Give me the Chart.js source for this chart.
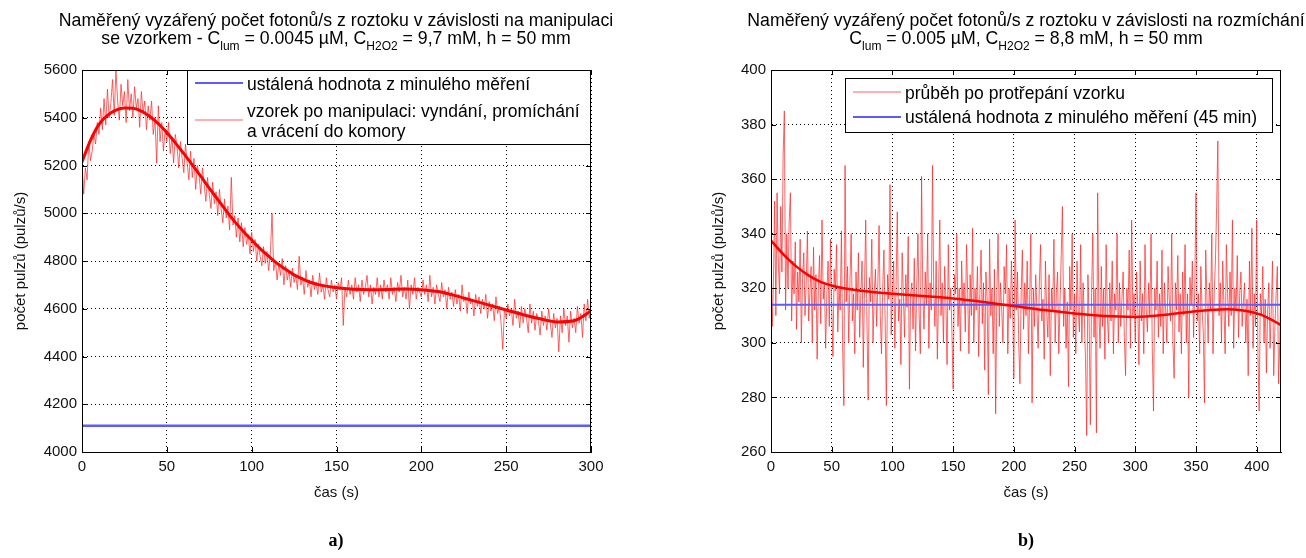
<!DOCTYPE html>
<html><head><meta charset="utf-8">
<script src="https://cdn.jsdelivr.net/npm/chart.js@4.4.0/dist/chart.umd.min.js"></script>
<style>
body{margin:0;background:#fff;width:1306px;height:558px;overflow:hidden;position:relative;font-family:"Liberation Sans",Arial,sans-serif;}
canvas{position:absolute;top:0}
#c1{left:0}
#c2{left:653px}
.title{position:absolute;top:11px;width:680px;text-align:center;font-size:17.7px;line-height:18px;color:#000;white-space:nowrap}
.title sub{font-size:12px;vertical-align:-6px;line-height:0}
.lab{position:absolute;top:530px;width:60px;text-align:center;font-family:"Liberation Serif","Times New Roman",serif;font-weight:bold;font-size:18px;color:#000}
</style></head>
<body>
<canvas id="c1" width="653" height="558"></canvas>
<canvas id="c2" width="653" height="558"></canvas>
<div class="title" style="left:-4px">Naměřený vyzářený počet fotonů/s z roztoku v závislosti na manipulaci<br>se vzorkem - C<sub>lum</sub> = 0.0045 µM, C<sub>H2O2</sub> = 9,7 mM, h = 50 mm</div>
<div class="title" style="left:686px">Naměřený vyzářený počet fotonů/s z roztoku v závislosti na rozmíchání<br>C<sub>lum</sub> = 0.005 µM, C<sub>H2O2</sub> = 8,8 mM, h = 50 mm</div>
<div class="lab" style="left:306px">a)</div>
<div class="lab" style="left:996px">b)</div>
<script>
// ---------- Chart a) ----------
const xTicksA = [0, 50, 100, 150, 200, 250, 300];
const yTicksA = [4000, 4200, 4400, 4600, 4800, 5000, 5200, 5400, 5600];
const stepA = 1; // sampling step of noisy series (s), starts at 0
const noisyA = [
  5215,5080,5190,5140,5300,5220,5260,5330,5290,5380,
  5330,5440,5350,5480,5370,5520,5400,5460,5560,5410,
  5600,5470,5390,5540,5450,5510,5380,5560,5430,5500,
  5400,5530,5440,5480,5360,5510,5420,5470,5350,5450,
  5390,5470,5330,5400,5210,5450,5300,5380,5260,5350,
  5300,5380,5250,5320,5210,5330,5280,5190,5300,5230,
  5170,5290,5210,5140,5260,5150,5230,5100,5200,5160,
  5080,5190,5120,5050,5150,5080,5020,5130,5040,5090,
  4990,5100,5020,4960,5060,4980,5030,4930,5150,4950,
  4990,4900,4980,4880,4960,4860,4940,4870,4910,4830,
  4920,4840,4890,4800,4870,4820,4780,4860,4790,4840,
  4760,4830,5000,4760,4800,4720,4790,4740,4810,4700,
  4780,4720,4760,4690,4770,4710,4740,4680,4820,4700,
  4730,4660,4760,4690,4720,4650,4740,4680,4710,4660,
  4750,4670,4700,4640,4730,4680,4650,4720,4670,4700,
  4640,4710,4680,4730,4530,4690,4650,4720,4660,4700,
  4640,4730,4670,4700,4630,4720,4660,4690,4740,4650,
  4700,4620,4690,4660,4730,4650,4700,4640,4720,4670,
  4700,4640,4730,4660,4690,4630,4710,4670,4740,4650,
  4690,4640,4720,4600,4700,4660,4730,4640,4690,4670,
  4650,4720,4660,4700,4630,4740,4650,4690,4620,4700,
  4660,4630,4710,4650,4680,4600,4690,4640,4670,4610,
  4680,4620,4660,4590,4700,4630,4650,4580,4670,4620,
  4640,4570,4660,4610,4650,4580,4640,4600,4660,4560,
  4630,4590,4620,4550,4650,4580,4610,4540,4430,4600,
  4560,4620,4570,4600,4530,4640,4560,4590,4520,4610,
  4540,4600,4560,4500,4620,4540,4590,4510,4580,4550,
  4490,4590,4530,4570,4510,4600,4540,4480,4580,4520,
  4560,4420,4570,4500,4600,4530,4570,4460,4590,4520,
  4560,4500,4610,4540,4580,4480,4620,4550,4640,4560,
  4610];
const fitTimesA = [0,5,10,15,20,25,30,35,40,45,50,55,60,65,70,75,80,85,90,95,100,105,110,115,120,125,130,135,140,150,160,170,180,190,200,210,220,230,240,250,260,270,280,290,300];
const fitA = [5215,5305,5372,5410,5432,5441,5440,5428,5405,5375,5338,5295,5250,5203,5155,5105,5058,5010,4965,4925,4888,4852,4820,4790,4765,4742,4725,4710,4700,4688,4682,4680,4681,4683,4680,4672,4655,4635,4615,4595,4575,4558,4545,4550,4590];
const baseTimesA = [0, 300];
const baseA = [4110, 4110];
const legendA = ['ustálená hodnota z minulého měření', ['vzorek po manipulaci: vyndání, promíchání', 'a vrácení do komory']];

// ---------- Chart b) ----------
const xTicksB = [0, 50, 100, 150, 200, 250, 300, 350, 400];
const yTicksB = [260, 280, 300, 320, 340, 360, 380, 400];
const stepB = 1;
const noisyB = [337,306,322,352,310,355,330,318,350,326,
  369,385,312,340,320,345,355,308,330,318,
  337,305,326,315,338,300,324,333,310,322,
  341,308,318,328,300,335,312,325,294,320,
  332,307,345,316,322,298,318,330,306,338,
  313,295,327,319,336,304,320,312,341,298,
  277,365,315,328,300,322,340,308,318,296,
  326,312,333,302,318,330,291,320,345,308,
  279,324,315,338,300,318,327,306,322,343,
  310,296,320,334,308,277,325,316,358,303,
  318,330,298,321,348,308,316,292,333,318,
  302,325,313,339,283,318,322,305,331,297,
  320,340,310,296,361,318,305,326,314,340,
  298,322,312,365,320,306,330,294,318,345,
  310,322,300,328,316,292,336,312,320,304,
  283,325,318,340,306,320,297,330,314,322,
  304,336,318,296,325,310,342,300,320,312,
  328,295,318,334,307,322,290,326,316,281,
  338,310,320,296,327,274,318,340,306,322,
  312,300,328,318,336,296,320,309,330,314,
  287,345,312,326,300,285,318,334,305,322,
  310,330,296,316,340,278,320,306,325,312,
  298,322,336,308,316,294,330,312,302,325,
  288,320,312,338,300,318,326,296,314,332,
  350,306,320,298,315,284,328,312,340,302,
  318,296,330,312,304,336,300,322,310,294,
  266,325,308,270,318,340,302,320,267,355,
  312,298,328,306,320,294,336,310,300,322,
  308,330,296,318,312,340,300,322,306,316,
  326,302,288,320,312,334,298,345,310,318,
  300,326,314,292,330,308,318,296,336,312,
  304,322,310,340,298,275,320,312,330,302,
  318,306,334,296,322,312,300,328,316,308,
  340,300,287,322,312,332,304,318,296,326,
  310,336,300,318,280,324,314,330,302,320,
  355,308,318,296,328,312,304,278,334,316,
  300,322,312,340,296,318,330,350,374,310,
  322,300,330,314,296,336,318,306,326,310,
  345,298,320,312,332,302,318,326,306,315,
  322,300,316,288,330,310,342,298,318,306,
  345,296,275,318,310,328,300,316,289,312,
  322,298,312,330,288,306,318,328,285,300,
  328];
const fitTimesB = [0,5,10,15,20,30,40,50,60,80,100,125,150,175,200,225,250,275,300,325,350,375,400,410,420];
const fitB = [337.5,335,332.5,330.3,328.3,325,322.5,321,320,318.8,318,317.2,316.3,315,313.5,312,310.8,309.8,309.5,310.3,311.6,312.3,310.8,309,306.5];
const baseTimesB = [0, 420];
const baseB = [314, 314];
const legendB = ['průběh po protřepání vzorku', 'ustálená hodnota z minulého měření (45 min)'];

const RED_THIN = 'rgba(255,40,40,0.72)';
const RED = '#ff0000';
const BLUE = '#5b5bff';
const FONT = {family: "'Liberation Sans', Arial, sans-serif", size: 15};

const pts = (xs, ys) => ys.map((v, i) => ({x: xs[i], y: v}));
const sampled = (arr, step) => arr.map((v, i) => ({x: i * step, y: v}));

const boxPlugin = {
  id: 'box',
  afterDraw(chart) {
    const {ctx, chartArea: {left, top, right, bottom}, scales: {x, y}} = chart;
    ctx.save();
    ctx.strokeStyle = '#000';
    ctx.lineWidth = 1;
    ctx.setLineDash([]);
    ctx.beginPath();
    x.ticks.forEach(t => {
      const px = Math.round(x.getPixelForValue(t.value)) + 0.5;
      ctx.moveTo(px, bottom); ctx.lineTo(px, bottom - 5);
      ctx.moveTo(px, top); ctx.lineTo(px, top + 5);
    });
    y.ticks.forEach(t => {
      const py = Math.round(y.getPixelForValue(t.value)) + 0.5;
      ctx.moveTo(left, py); ctx.lineTo(left + 5, py);
      ctx.moveTo(right, py); ctx.lineTo(right - 5, py);
    });
    ctx.stroke();
    ctx.strokeRect(Math.round(left) + 0.5, Math.round(top) + 0.5, Math.round(right - left) - 1, Math.round(bottom - top));
    // legend
    const lg = chart.options.plugins.boxLegend;
    const bx = left + lg.dx, by = top + lg.dy, bw = right - lg.dr - bx, bh = lg.h;
    ctx.fillStyle = '#fff';
    ctx.fillRect(bx, by, bw, bh);
    ctx.strokeRect(Math.round(bx) + 0.5, Math.round(by) + 0.5, Math.round(bw) - 1, Math.round(bh));
    ctx.font = "17.5px 'Liberation Sans', Arial, sans-serif";
    ctx.textBaseline = 'middle';
    ctx.textAlign = 'left';
    lg.items.forEach(it => {
      ctx.strokeStyle = it.color;
      ctx.lineWidth = it.width;
      ctx.beginPath();
      ctx.moveTo(bx + 8, by + it.ly); ctx.lineTo(bx + 56, by + it.ly);
      ctx.stroke();
      ctx.fillStyle = '#000';
      const lines = Array.isArray(it.text) ? it.text : [it.text];
      lines.forEach((s, k) => ctx.fillText(s, bx + 60, by + it.ty + k * 20));
    });
    ctx.restore();
  }
};

function makeChart(id, cfg) {
  return new Chart(document.getElementById(id), {
    type: 'line',
    data: {datasets: cfg.datasets},
    plugins: [boxPlugin],
    options: {
      responsive: false,
      animation: false,
      events: [],
      layout: {padding: {top: 70, left: 0, right: cfg.padRight, bottom: 56}},
      elements: {point: {radius: 0}},
      plugins: {legend: {display: false}, tooltip: {enabled: false}, boxLegend: cfg.legend},
      scales: {
        x: {
          type: 'linear', min: cfg.xMin, max: cfg.xMax,
          afterBuildTicks: s => { s.ticks = cfg.xTicks.map(v => ({value: v})); },
          afterFit: s => { s.height = 50; },
          grid: {color: '#000', lineWidth: 1, drawTicks: false},
          border: {display: true, color: '#000', dash: [1, 3]},
          ticks: {font: FONT, color: '#111', padding: 6, maxRotation: 0, autoSkip: false, includeBounds: false, callback: v => String(v)},
          title: {display: true, text: 'čas (s)', font: FONT, color: '#111', padding: {top: 0, bottom: 0}}
        },
        y: {
          type: 'linear', min: cfg.yMin, max: cfg.yMax,
          afterBuildTicks: s => { s.ticks = cfg.yTicks.map(v => ({value: v})); },
          afterFit: s => { s.width = cfg.yWidth; },
          grid: {color: '#000', lineWidth: 1, drawTicks: false},
          border: {display: true, color: '#000', dash: [1, 3]},
          ticks: {font: FONT, color: '#111', padding: 5, autoSkip: false, callback: v => String(v)},
          title: {display: true, text: 'počet pulzů (pulzů/s)', font: FONT, color: '#111', padding: {top: cfg.yTitlePad, bottom: 0}}
        }
      }
    }
  });
}

makeChart('c1', {
  xMin: 0, xMax: 300, yMin: 4000, yMax: 5600, xTicks: xTicksA, yTicks: yTicksA,
  padRight: 62, yWidth: 82, yTitlePad: 12,
  legend: {dx: 105, dy: 0, dr: 0, h: 74, items: [
    {text: legendA[0], color: BLUE, width: 2, ly: 13, ty: 15},
    {text: legendA[1], color: RED_THIN, width: 1, ly: 50, ty: 42}
  ]},
  datasets: [
    {data: pts(fitTimesA, fitA), borderColor: RED, borderWidth: 3, cubicInterpolationMode: 'monotone'},
    {data: pts(baseTimesA, baseA), borderColor: BLUE, borderWidth: 2.5},
    {data: sampled(noisyA, stepA), borderColor: RED_THIN, borderWidth: 1, tension: 0}
  ]
});

makeChart('c2', {
  xMin: 0, xMax: 420, yMin: 260, yMax: 400, xTicks: xTicksB, yTicks: yTicksB,
  padRight: 25, yWidth: 118, yTitlePad: 57,
  legend: {dx: 74, dy: 8, dr: 8, h: 54, items: [
    {text: legendB[0], color: RED_THIN, width: 1, ly: 14, ty: 16},
    {text: legendB[1], color: BLUE, width: 2, ly: 39, ty: 40}
  ]},
  datasets: [
    {data: pts(fitTimesB, fitB), borderColor: RED, borderWidth: 2.5, cubicInterpolationMode: 'monotone'},
    {data: pts(baseTimesB, baseB), borderColor: BLUE, borderWidth: 2},
    {data: sampled(noisyB, stepB), borderColor: RED_THIN, borderWidth: 1, tension: 0}
  ]
});
</script>
</body></html>
